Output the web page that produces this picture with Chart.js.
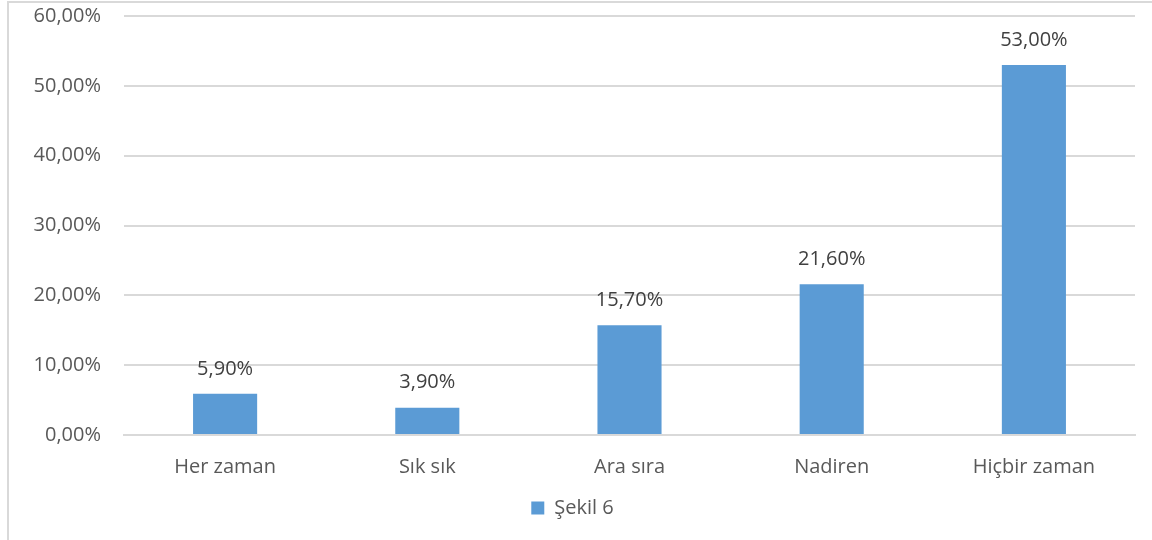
<!DOCTYPE html>
<html>
<head>
<meta charset="utf-8">
<script src="https://cdn.jsdelivr.net/npm/chart.js@4"></script>
<style>
  html, body { margin: 0; padding: 0; background: #fff; overflow: hidden; }
  canvas { display: block; }
</style>
</head>
<body>
<canvas id="chart" width="1152" height="540"></canvas>
<script>
  // chart data
  const categories = ['Her zaman', 'Sık sık', 'Ara sıra', 'Nadiren', 'Hiçbir zaman'];
  const values = [5.9, 3.9, 15.7, 21.6, 53.0];
  const seriesName = 'Şekil 6';

  const fmt = v => v.toFixed(2).replace('.', ',') + '%';
  const font = { family: '"Open Sans", sans-serif', size: 20 };

  // outer frame like the office chart border
  const framePlugin = {
    id: 'frame',
    beforeDraw(chart) {
      const ctx = chart.ctx;
      ctx.save();
      ctx.strokeStyle = '#d9d9d9';
      ctx.lineWidth = 2;
      ctx.strokeRect(8, 2, chart.width + 10, chart.height + 10);
      ctx.restore();
    }
  };

  // value labels above each bar
  const valueLabels = {
    id: 'valueLabels',
    afterDatasetsDraw(chart) {
      const ctx = chart.ctx;
      const meta = chart.getDatasetMeta(0);
      ctx.save();
      ctx.font = '20px "Open Sans", sans-serif';
      ctx.fillStyle = '#404040';
      ctx.textAlign = 'center';
      ctx.textBaseline = 'middle';
      meta.data.forEach((bar, i) => {
        ctx.fillText(fmt(values[i]), bar.x, bar.y - 25);
      });
      ctx.restore();
    }
  };

  new Chart(document.getElementById('chart'), {
    type: 'bar',
    data: {
      labels: categories,
      datasets: [{
        label: seriesName,
        data: values,
        backgroundColor: '#5b9bd5',
        barPercentage: 0.634,
        categoryPercentage: 0.5
      }]
    },
    options: {
      responsive: false,
      animation: false,
      devicePixelRatio: 1,
      layout: { padding: { left: 10, right: 17, top: 16, bottom: 12 } },
      plugins: {
        legend: {
          position: 'bottom',
          labels: {
            font: font,
            color: '#595959',
            boxWidth: 13,
            boxHeight: 13,
            padding: 10
          }
        },
        tooltip: { enabled: false }
      },
      scales: {
        x: {
          grid: { display: false },
          border: { color: '#d9d9d9', width: 2 },
          ticks: {
            font: font,
            color: '#595959',
            padding: 12
          },
          afterFit(scale) { scale.height = 53; }
        },
        y: {
          min: 0,
          max: 60,
          grid: { color: '#d9d9d9', lineWidth: 2, drawTicks: false },
          border: { display: false },
          ticks: {
            stepSize: 10,
            font: font,
            color: '#595959',
            padding: 23,
            callback: v => fmt(v)
          },
          afterFit(scale) {
            scale.width = 114;
            scale.paddingTop = 0;
            scale.paddingBottom = 0;
          }
        }
      }
    },
    plugins: [framePlugin, valueLabels]
  });
</script>
</body>
</html>
